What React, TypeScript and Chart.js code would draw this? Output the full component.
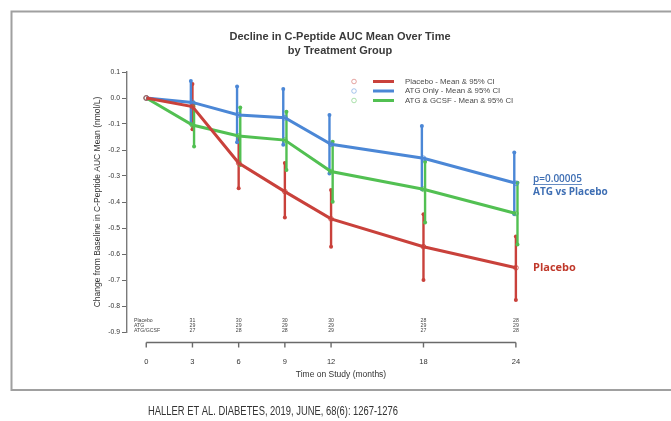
import React, { useEffect, useRef } from 'react';
import { Chart, registerables } from 'chart.js';

Chart.register(...registerables);

// ---- data ----
const months = [0, 3, 6, 9, 12, 18, 24];
const xTickValues = [0, 3, 6, 9, 12, 18, 24];
const yTickValues = [0.1, 0.0, -0.1, -0.2, -0.3, -0.4, -0.5, -0.6, -0.7, -0.8, -0.9];

const placeboMean = [0, -0.033, -0.25, -0.36, -0.465, -0.572, -0.653];
const placeboHigh = [0, 0.054, -0.158, -0.25, -0.354, -0.447, -0.533];
const placeboLow = [0, -0.12, -0.347, -0.46, -0.572, -0.7, -0.777];

const atgMean = [0, -0.017, -0.065, -0.076, -0.178, -0.232, -0.328];
const atgHigh = [0, 0.065, 0.044, 0.035, -0.065, -0.108, -0.21];
const atgLow = [0, -0.099, -0.17, -0.18, -0.29, -0.351, -0.447];

const gcsfMean = [0, -0.104, -0.146, -0.162, -0.283, -0.351, -0.444];
const gcsfHigh = [0, -0.02, -0.037, -0.053, -0.168, -0.245, -0.326];
const gcsfLow = [0, -0.187, -0.258, -0.277, -0.399, -0.479, -0.563];

const nMonths = [3, 6, 9, 12, 18, 24];
const nRowLabels = ['Placebo', 'ATG', 'ATG/GCSF'];
const nPlacebo = [31, 30, 30, 30, 28, 28];
const nAtg = [29, 29, 29, 29, 29, 29];
const nGcsf = [27, 28, 28, 29, 27, 28];

const seriesLabels = [
  'Placebo - Mean & 95% CI',
  'ATG Only - Mean & 95% CI',
  'ATG & GCSF - Mean & 95% CI',
];
const titleLines = ['Decline in C-Peptide AUC Mean Over Time', 'by Treatment Group'];
const xTitle = 'Time on Study (months)';
const yTitle = 'Change from Baseline in C-Peptide AUC Mean (nmol/L)';
const pValueText = 'p=0.00005';
const atgVsPlaceboText = 'ATG vs Placebo';
const placeboText = 'Placebo';
const captionText = 'HALLER ET AL. DIABETES, 2019, JUNE, 68(6): 1267-1276';

// ---- styles ----
const RED = '#c9413b';
const BLUE = '#4b87d6';
const GREEN = '#52c052';
const SANS = "'Liberation Sans', Arial, sans-serif";
const OPEN = "'Open Sans', 'Noto Sans', sans-serif";

const errorSets = [
  { low: placeboLow, high: placeboHigh, color: RED, dx: 0 },
  { low: atgLow, high: atgHigh, color: BLUE, dx: -1.6 },
  { low: gcsfLow, high: gcsfHigh, color: GREEN, dx: 1.6 },
];

const customPlugin = {
  id: 'customDecor',
  beforeDatasetsDraw(chart: any) {
    const { ctx, scales } = chart;
    const xs = scales.x;
    const ys = scales.y;
    ctx.save();
    errorSets.forEach((s) => {
      months.forEach((m, i) => {
        if (s.low[i] === s.high[i]) return;
        const x = xs.getPixelForValue(m) + s.dx;
        const y1 = ys.getPixelForValue(s.high[i]);
        const y2 = ys.getPixelForValue(s.low[i]);
        ctx.strokeStyle = s.color;
        ctx.lineWidth = 2.4;
        ctx.beginPath();
        ctx.moveTo(x, y1);
        ctx.lineTo(x, y2);
        ctx.stroke();
        ctx.fillStyle = s.color;
        [y1, y2].forEach((yy) => {
          ctx.beginPath();
          ctx.arc(x, yy, 2, 0, Math.PI * 2);
          ctx.fill();
        });
      });
    });
    ctx.restore();
  },
  afterDraw(chart: any) {
    const { ctx, scales } = chart;
    const xs = scales.x;
    ctx.save();

    // frame
    ctx.strokeStyle = '#a0a0a0';
    ctx.lineWidth = 2;
    ctx.strokeRect(11.5, 11.5, 700, 378.5);

    // title
    ctx.fillStyle = '#3a3a3a';
    ctx.font = `bold 11px ${SANS}`;
    ctx.textAlign = 'center';
    ctx.textBaseline = 'middle';
    ctx.fillText(titleLines[0], 340, 36.5);
    ctx.fillText(titleLines[1], 340, 51);

    // legend
    const colors = [RED, BLUE, GREEN];
    const legendY = [81.5, 91, 100.5];
    seriesLabels.forEach((lab, i) => {
      const y = legendY[i];
      ctx.strokeStyle = colors[i];
      ctx.globalAlpha = 0.6;
      ctx.lineWidth = 0.8;
      ctx.beginPath();
      ctx.arc(354, y, 2.3, 0, Math.PI * 2);
      ctx.stroke();
      ctx.globalAlpha = 1;
      ctx.lineWidth = 3;
      ctx.beginPath();
      ctx.moveTo(373, y);
      ctx.lineTo(394, y);
      ctx.stroke();
      ctx.fillStyle = '#4a4a4a';
      ctx.font = `7.8px ${SANS}`;
      ctx.textAlign = 'left';
      ctx.fillText(lab, 405, y);
    });

    // n table
    const rows = [nPlacebo, nAtg, nGcsf];
    const rowY = [321, 326, 331];
    ctx.font = `5.2px ${SANS}`;
    ctx.fillStyle = '#444';
    rows.forEach((r, ri) => {
      ctx.textAlign = 'left';
      ctx.fillText(nRowLabels[ri], 134, rowY[ri]);
      ctx.textAlign = 'center';
      r.forEach((v, i) => {
        ctx.fillText(String(v), xs.getPixelForValue(nMonths[i]), rowY[ri]);
      });
    });

    // x axis line with tick marks
    const axY = 342.5;
    ctx.strokeStyle = '#6a6a6a';
    ctx.lineWidth = 1.4;
    ctx.beginPath();
    ctx.moveTo(xs.getPixelForValue(xTickValues[0]), axY);
    ctx.lineTo(xs.getPixelForValue(xTickValues[xTickValues.length - 1]), axY);
    ctx.stroke();
    xTickValues.forEach((v) => {
      const x = xs.getPixelForValue(v);
      ctx.beginPath();
      ctx.moveTo(x, axY);
      ctx.lineTo(x, axY + 5);
      ctx.stroke();
    });

    // annotations
    ctx.textAlign = 'left';
    ctx.fillStyle = '#3f6fb4';
    ctx.font = `600 10px ${OPEN}`;
    ctx.fillText(pValueText, 533, 179);
    const pw = ctx.measureText(pValueText).width;
    ctx.strokeStyle = '#3f6fb4';
    ctx.lineWidth = 0.8;
    ctx.beginPath();
    ctx.moveTo(533, 184.5);
    ctx.lineTo(533 + pw, 184.5);
    ctx.stroke();
    ctx.font = `bold 10px ${OPEN}`;
    ctx.fillText(atgVsPlaceboText, 533, 192.5);
    ctx.fillStyle = '#c0392b';
    ctx.font = `bold 11px ${OPEN}`;
    ctx.fillText(placeboText, 533, 268);

    // caption (condensed)
    ctx.fillStyle = '#333';
    ctx.font = `12.5px ${SANS}`;
    ctx.textAlign = 'center';
    const cw = ctx.measureText(captionText).width;
    const sx = 250 / cw;
    ctx.translate(273, 412);
    ctx.scale(sx, 1);
    ctx.fillText(captionText, 0, 0);

    ctx.restore();
  },
};

export default function App() {
  const ref = useRef<HTMLCanvasElement | null>(null);

  useEffect(() => {
    document.body.style.margin = '0';
    const canvas = ref.current;
    if (!canvas) return;
    const mk = (label: string, data: number[], color: string) => ({
      label,
      data: months.map((m, i) => ({ x: m, y: data[i] })),
      borderColor: color,
      backgroundColor: color,
      borderWidth: 3,
      pointRadius: 2.4,
      pointBorderWidth: 0.8,
      pointBackgroundColor: 'rgba(255,255,255,0)',
      pointBorderColor: color,
      tension: 0,
      clip: false as any,
    });
    const chart = new Chart(canvas, {
      type: 'line',
      data: {
        datasets: [
          mk(seriesLabels[0], placeboMean, RED),
          mk(seriesLabels[1], atgMean, BLUE),
          mk(seriesLabels[2], gcsfMean, GREEN),
        ],
      },
      options: {
        animation: false,
        responsive: false,
        devicePixelRatio: 1,
        layout: { padding: { left: 90, top: 72, right: 116, bottom: 37 } },
        plugins: {
          legend: { display: false },
          title: { display: false },
          tooltip: { enabled: false },
        },
        scales: {
          x: {
            type: 'linear',
            min: -1.25,
            max: 26.54,
            afterBuildTicks: (s: any) => {
              s.ticks = xTickValues.map((v) => ({ value: v }));
            },
            afterFit: (s: any) => {
              s.height = 52;
            },
            grid: { display: false, drawTicks: false },
            border: { display: false },
            ticks: {
              padding: 25,
              autoSkip: false,
              maxRotation: 0,
              color: '#333',
              font: { size: 7.5, family: SANS },
              callback: (v: any) => String(v),
            },
            title: {
              display: true,
              text: xTitle,
              color: '#333',
              font: { size: 8.5, family: SANS },
              padding: { top: 4, bottom: 4 },
            },
          },
          y: {
            type: 'linear',
            min: -0.9,
            max: 0.1,
            afterBuildTicks: (s: any) => {
              s.ticks = yTickValues.map((v) => ({ value: v }));
            },
            afterFit: (s: any) => {
              s.width = 37;
            },
            grid: { drawOnChartArea: false, tickLength: 5, color: '#6a6a6a', lineWidth: 1 },
            border: { display: true, color: '#7a7a7a', width: 1.4 },
            ticks: {
              padding: 2,
              color: '#333',
              font: { size: 6.8, family: SANS },
              callback: (v: any) => (Math.abs(Number(v)) < 1e-9 ? '0.0' : Number(v).toFixed(1)),
            },
            title: {
              display: true,
              text: yTitle,
              color: '#333',
              font: { size: 8.5, family: SANS },
              padding: { top: 3, bottom: 3 },
            },
          },
        },
      },
      plugins: [customPlugin],
    });
    return () => chart.destroy();
  }, []);

  return (
    <div style={{ width: 671, height: 421, background: '#fff' }}>
      <canvas ref={ref} width={671} height={421} style={{ display: 'block' }} />
    </div>
  );
}
